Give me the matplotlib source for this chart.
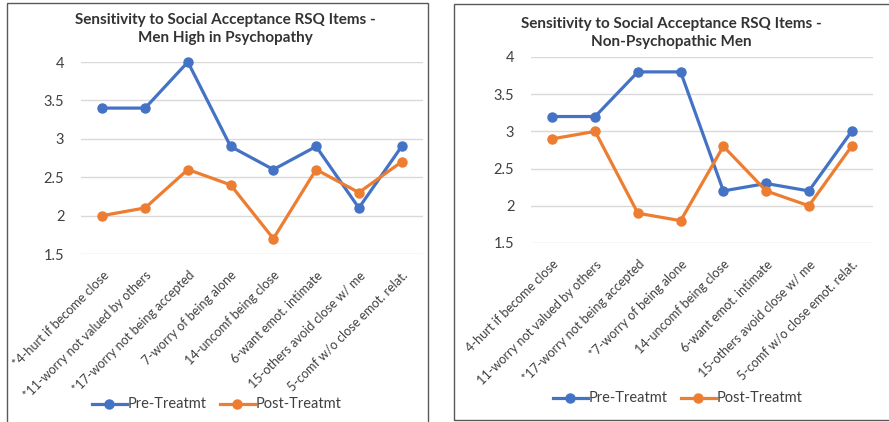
import numpy as np
import matplotlib
matplotlib.use("Agg")
import matplotlib.pyplot as plt
from matplotlib.patches import Rectangle
from matplotlib.lines import Line2D

plt.rcParams['font.family'] = ['Lato', 'DejaVu Sans']

# ---- data ----
labels_psy = ["*4-hurt if become close", "*11-worry not valued by others",
              "*17-worry not being accepted", "7-worry of being alone",
              "14-uncomf being close", "6-want emot. intimate",
              "15-others avoid close w/ me", "5-comf w/o close emot. relat."]
labels_non = ["4-hurt if become close", "11-worry not valued by others",
              "*17-worry not being accepted", "*7-worry of being alone",
              "14-uncomf being close", "6-want emot. intimate",
              "15-others avoid close w/ me", "5-comf w/o close emot. relat."]

pre_psy  = [3.4, 3.4, 4.0, 2.9, 2.6, 2.9, 2.1, 2.9]
post_psy = [2.0, 2.1, 2.6, 2.4, 1.7, 2.6, 2.3, 2.7]
pre_non  = [3.2, 3.2, 3.8, 3.8, 2.2, 2.3, 2.2, 3.0]
post_non = [2.9, 3.0, 1.9, 1.8, 2.8, 2.2, 2.0, 2.8]

yticks = [1.5, 2, 2.5, 3, 3.5, 4]
ytick_labels = ["1.5", "2", "2.5", "3", "3.5", "4"]
titles = ["Sensitivity to Social Acceptance RSQ Items -\nMen High in Psychopathy",
          "Sensitivity to Social Acceptance RSQ Items -\nNon-Psychopathic Men"]
series_names = ["Pre-Treatmt", "Post-Treatmt"]

BLUE, ORANGE = "#4472C4", "#ED7D31"
W, H = 889, 422

fig = plt.figure(figsize=(W / 100, H / 100), dpi=100)

def fx(px): return px / W
def fy(py): return 1 - py / H

# panel frames (px coords: left, top, right, bottom)
for l, t, r, b in [(7, 3, 428, 425), (454, 4, 892, 420)]:
    fig.patches.append(Rectangle((fx(l), fy(b)), fx(r - l), (b - t) / H,
                                 transform=fig.transFigure, fill=False,
                                 edgecolor="#595959", linewidth=1.0))

panels = [
    dict(ax=(81, 62, 423, 254), labels=labels_psy, pre=pre_psy, post=post_psy,
         title=titles[0], tx=225, ty=29, leg=(92, 404)),
    dict(ax=(531, 57, 873, 243), labels=labels_non, pre=pre_non, post=post_non,
         title=titles[1], tx=671, ty=33, leg=(553, 398)),
]

for p in panels:
    l, t, r, b = p["ax"]
    ax = fig.add_axes([fx(l), fy(b), fx(r - l), (b - t) / H])
    x = np.arange(len(p["labels"]))
    for vals, c in [(p["pre"], BLUE), (p["post"], ORANGE)]:
        ax.plot(x, vals, color=c, lw=2.3, marker="o", ms=6.5,
                solid_joinstyle="round", clip_on=False)
    ax.set_xlim(-0.5, len(x) - 0.5)
    ax.set_ylim(1.5, 4)
    ax.set_yticks(yticks)
    ax.set_yticklabels(ytick_labels, fontsize=10.5, color="#404040")
    ax.set_xticks(x)
    ax.set_xticklabels(p["labels"], rotation=45, ha="right", rotation_mode="anchor",
                       fontsize=9.1, color="#404040")
    ax.tick_params(axis="both", length=0)
    ax.tick_params(axis="x", pad=11)
    ax.tick_params(axis="y", pad=12)
    ax.grid(axis="y", color="#D9D9D9", lw=1)
    ax.set_axisbelow(True)
    for s in ax.spines.values():
        s.set_visible(False)
    ax.patch.set_alpha(0)
    fig.text(fx(p["tx"]), fy(p["ty"]), p["title"], ha="center", va="center",
             fontsize=11, fontweight="bold", color="#333333", linespacing=1.45)

    # legend drawn manually at bottom
    lx, ly = p["leg"]
    for i, (name, c) in enumerate(zip(series_names, [BLUE, ORANGE])):
        x0 = lx + i * 128
        fig.add_artist(Line2D([fx(x0), fx(x0 + 35)], [fy(ly), fy(ly)],
                              transform=fig.transFigure, color=c, lw=2.3))
        fig.add_artist(Line2D([fx(x0 + 17)], [fy(ly)], transform=fig.transFigure,
                              color=c, marker="o", ms=6.5))
        fig.text(fx(x0 + 36), fy(ly), name, ha="left", va="center",
                 fontsize=10.5, color="#404040")

fig.savefig("out.png", dpi=100)
